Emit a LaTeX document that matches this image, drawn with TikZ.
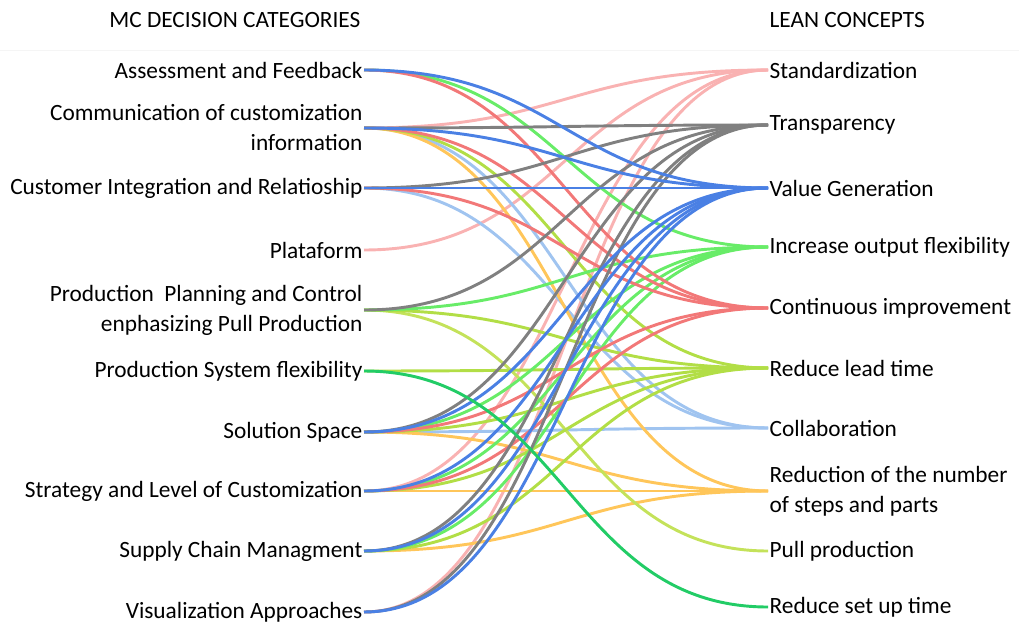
\documentclass[tikz,border=0pt]{standalone}
\usepackage{fontspec}
\setmainfont{Carlito}
\definecolor{cstd}{RGB}{249,178,178}
\definecolor{ctra}{RGB}{128,128,128}
\definecolor{cval}{RGB}{74,128,228}
\definecolor{ciof}{RGB}{104,236,104}
\definecolor{ccon}{RGB}{242,120,120}
\definecolor{crlt}{RGB}{178,222,70}
\definecolor{ccol}{RGB}{160,196,240}
\definecolor{cred}{RGB}{255,198,90}
\definecolor{cpul}{RGB}{196,226,90}
\definecolor{cset}{RGB}{34,204,102}
\newcommand\lnk[3]{\draw[lk,#3] (#1.east) .. controls +(200,0) and +(-200,0) .. (#2.west);}
\begin{document}
\begin{tikzpicture}[x=0.75pt,y=-0.75pt,
  lab/.style={font=\fontsize{17.5}{22.5}\selectfont, inner sep=1pt},
  L/.style={lab, anchor=east, align=right},
  R/.style={lab, anchor=west, align=left},
  lk/.style={line width=2.2pt}]
\useasboundingbox (0,0) rectangle (1019,624);
\draw[gray!8, line width=0.6pt] (0,50) -- (1019,50);
\node[L] (h1) at (362,20) {MC DECISION CATEGORIES};
\node[R] (h2) at (768,20) {LEAN CONCEPTS};
% left
\node[L] (a) at (364,70) {Assessment and Feedback};
\node[L] (cm) at (364,128) {Communication of customization\\information};
\node[L] (cu) at (364,188) {Customer Integration and Relatioship};
\node[L] (pl) at (364,250) {Plataform};
\node[L] (pp) at (364,310) {Production\ \ Planning and Control\\enphasizing Pull Production};
\node[L] (ps) at (364,371) {Production System flexibility};
\node[L] (ss) at (364,432) {Solution Space};
\node[L] (st) at (364,491) {Strategy and Level of Customization};
\node[L] (sc) at (364,551) {Supply Chain Managment};
\node[L] (vi) at (364,612) {Visualization Approaches};
% right
\node[R] (rstd) at (768,70) {Standardization};
\node[R] (rtra) at (768,125) {Transparency};
\node[R] (rval) at (768,188) {Value Generation};
\node[R] (riof) at (768,247) {Increase output flexibility};
\node[R] (rcon) at (768,308) {Continuous improvement};
\node[R] (rrlt) at (768,368) {Reduce lead time};
\node[R] (rcol) at (768,428) {Collaboration};
\node[R] (rred) at (768,491) {Reduction of the number\\of steps and parts};
\node[R] (rpul) at (768,551) {Pull production};
\node[R] (rset) at (768,607) {Reduce set up time};
% links
\lnk{cm}{rstd}{cstd}
\lnk{pl}{rstd}{cstd}
\lnk{st}{rstd}{cstd}
\lnk{vi}{rstd}{cstd}
\lnk{cm}{rcol}{ccol}
\lnk{cu}{rcol}{ccol}
\lnk{ss}{rcol}{ccol}
\lnk{cm}{rred}{cred}
\lnk{ss}{rred}{cred}
\lnk{st}{rred}{cred}
\lnk{sc}{rred}{cred}
\lnk{pp}{rpul}{cpul}
\lnk{cm}{rrlt}{crlt}
\lnk{pp}{rrlt}{crlt}
\lnk{ps}{rrlt}{crlt}
\lnk{ss}{rrlt}{crlt}
\lnk{st}{rrlt}{crlt}
\lnk{sc}{rrlt}{crlt}
\lnk{a}{riof}{ciof}
\lnk{pp}{riof}{ciof}
\lnk{ss}{riof}{ciof}
\lnk{st}{riof}{ciof}
\lnk{sc}{riof}{ciof}
\lnk{a}{rcon}{ccon}
\lnk{cm}{rcon}{ccon}
\lnk{cu}{rcon}{ccon}
\lnk{ss}{rcon}{ccon}
\lnk{st}{rcon}{ccon}
\lnk{cm}{rtra}{ctra}
\lnk{cu}{rtra}{ctra}
\lnk{pp}{rtra}{ctra}
\lnk{ss}{rtra}{ctra}
\lnk{sc}{rtra}{ctra}
\lnk{vi}{rtra}{ctra}
\lnk{a}{rval}{cval}
\lnk{cm}{rval}{cval}
\lnk{cu}{rval}{cval}
\lnk{ss}{rval}{cval}
\lnk{st}{rval}{cval}
\lnk{sc}{rval}{cval}
\lnk{vi}{rval}{cval}
\lnk{ps}{rset}{cset}
\end{tikzpicture}
\end{document}
